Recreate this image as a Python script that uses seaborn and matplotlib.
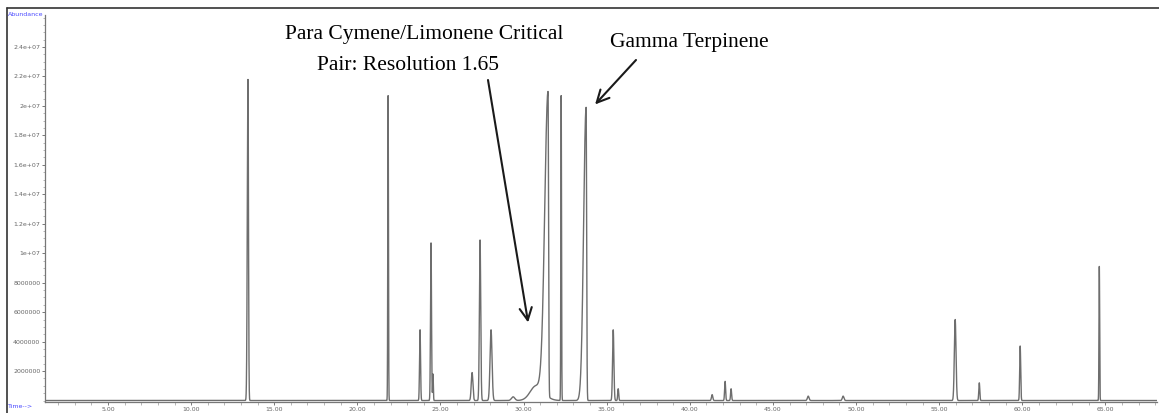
import numpy as np
import pandas as pd
import matplotlib
matplotlib.use("Agg")
import matplotlib.pyplot as plt
from matplotlib.ticker import FixedLocator, MultipleLocator
import seaborn as sns

# Peak table of the chromatogram: retention time (min), apex abundance,
# and left / right peak widths (min, Gaussian sigma on each side)
peak_times = [13.42, 21.85, 23.77, 24.43, 24.55, 26.90, 27.38, 28.04, 29.37,
              30.75, 31.47, 32.26, 33.76, 35.39, 35.69, 41.34, 42.12, 42.48,
              47.12, 49.22, 55.96, 57.41, 59.87, 64.63]
peak_heights = [21.8e6, 20.7e6, 4.8e6, 10.7e6, 1.8e6, 1.9e6, 10.9e6, 4.8e6, 0.25e6,
                1.0e6, 20.7e6, 20.7e6, 19.9e6, 4.8e6, 0.8e6, 0.4e6, 1.3e6, 0.8e6,
                0.3e6, 0.3e6, 5.5e6, 1.2e6, 3.7e6, 9.1e6]
width_left = [0.04, 0.02, 0.03, 0.03, 0.02, 0.05, 0.04, 0.06, 0.10,
              0.35, 0.20, 0.02, 0.15, 0.04, 0.03, 0.04, 0.03, 0.03,
              0.05, 0.05, 0.05, 0.03, 0.03, 0.02]
width_right = [0.03, 0.02, 0.03, 0.03, 0.02, 0.05, 0.04, 0.06, 0.10,
               0.45, 0.03, 0.02, 0.03, 0.04, 0.03, 0.04, 0.03, 0.03,
               0.05, 0.05, 0.05, 0.03, 0.03, 0.02]

y_tick_values = [2e6, 4e6, 6e6, 8e6, 1e7, 1.2e7, 1.4e7, 1.6e7, 1.8e7, 2e7, 2.2e7, 2.4e7]
y_tick_labels = ["2000000", "4000000", "6000000", "8000000", "1e+07", "1.2e+07",
                 "1.4e+07", "1.6e+07", "1.8e+07", "2e+07", "2.2e+07", "2.4e+07"]
x_tick_values = [5, 10, 15, 20, 25, 30, 35, 40, 45, 50, 55, 60, 65]
x_tick_labels = ["5.00", "10.00", "15.00", "20.00", "25.00", "30.00", "35.00",
                 "40.00", "45.00", "50.00", "55.00", "60.00", "65.00"]

# Build the detector trace from the peak table
t = np.linspace(1.2, 68.1, 30000)
signal = np.zeros_like(t)
for rt, h, wl, wr in zip(peak_times, peak_heights, width_left, width_right):
    sig = np.where(t < rt, wl, wr)
    signal += h * np.exp(-0.5 * ((t - rt) / sig) ** 2)
trace = pd.DataFrame({"time": t, "abundance": signal})

sns.set_theme(style="white")
plt.rcParams["font.family"] = ["DejaVu Sans"]

W, H = 1159, 413
fig = plt.figure(figsize=(W / 100, H / 100), dpi=100)
ax = fig.add_axes([45 / W, (H - 402) / H, (1157 - 45) / W, (402 - 15) / H])

sns.lineplot(data=trace, x="time", y="abundance", ax=ax, color="#6e6e6e",
             linewidth=1.0, estimator=None, sort=False)

ax.set_xlim(1.21, 68.1)
ax.set_ylim(-0.1e6, 26.17e6)
ax.set_xlabel("")
ax.set_ylabel("")

for side in ("top", "right"):
    ax.spines[side].set_visible(False)
for side in ("left", "bottom"):
    ax.spines[side].set_color("#777777")
    ax.spines[side].set_linewidth(0.9)

ax.yaxis.set_major_locator(FixedLocator(y_tick_values))
ax.set_yticklabels(y_tick_labels)
ax.yaxis.set_minor_locator(MultipleLocator(0.5e6))
ax.xaxis.set_major_locator(FixedLocator(x_tick_values))
ax.set_xticklabels(x_tick_labels)
ax.xaxis.set_minor_locator(MultipleLocator(1))
ax.tick_params(axis="both", which="major", direction="out", length=2.5, width=0.7,
               color="#777777", labelsize=4.5, labelcolor="#666666", pad=0.8)
ax.tick_params(axis="both", which="minor", direction="out", length=1.8, width=0.5,
               color="#999999")
ax.tick_params(axis="y", left=True, which="both")
ax.tick_params(axis="x", bottom=True, which="both")

# Instrument-style axis captions
fig.text(8 / W, 1 - 15 / H, "Abundance", color="#4a4aff", fontsize=4.5,
         ha="left", va="center")
fig.text(8 / W, 1 - 406 / H, "Time-->", color="#4a4aff", fontsize=4.5,
         ha="left", va="center")

# Outer frame lines (left and top)
fig.add_artist(plt.Line2D([7 / W, 7 / W], [0, 1 - 8 / H], color="#333333", lw=1.2))
fig.add_artist(plt.Line2D([7 / W, 1], [1 - 8 / H, 1 - 8 / H], color="#333333", lw=1.2))

serif = ["Liberation Serif", "DejaVu Serif"]
fig.text(424 / W, 1 - 35 / H, "Para Cymene/Limonene Critical", family=serif,
         fontsize=15.5, ha="center", va="center", color="black")
fig.text(408 / W, 1 - 66 / H, "Pair: Resolution 1.65", family=serif,
         fontsize=15.5, ha="center", va="center", color="black")
fig.text(689 / W, 1 - 42 / H, "Gamma Terpinene", family=serif,
         fontsize=15.5, ha="center", va="center", color="black")

arrow_style = dict(arrowstyle="->", color="#1a1a1a", lw=1.5, mutation_scale=22,
                   shrinkA=0, shrinkB=0)
ax.annotate("", xy=(30.27, 5.3e6), xycoords="data",
            xytext=(488, H - 80), textcoords="figure pixels", arrowprops=arrow_style)
ax.annotate("", xy=(34.30, 20.1e6), xycoords="data",
            xytext=(636, H - 60), textcoords="figure pixels", arrowprops=arrow_style)

fig.savefig("out.png", dpi=100)
